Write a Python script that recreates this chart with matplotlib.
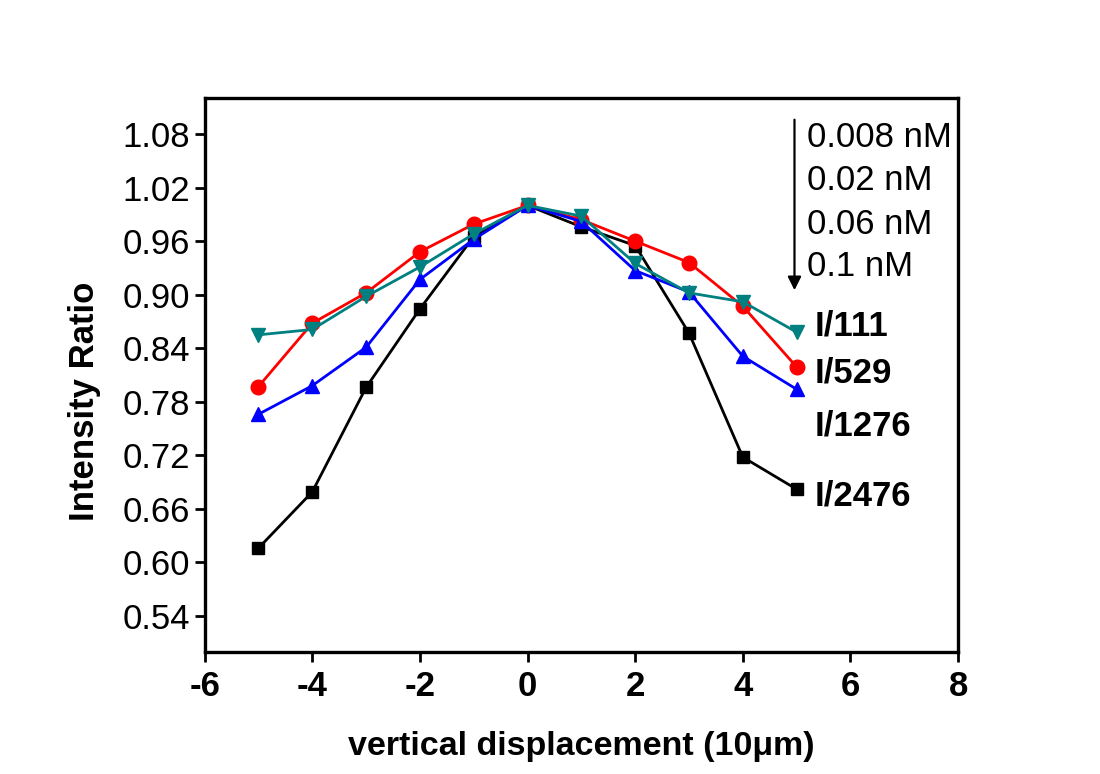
import numpy as np
import matplotlib
matplotlib.use("Agg")
import matplotlib.pyplot as plt

plt.rcParams['font.family'] = ['Liberation Sans', 'DejaVu Sans']
plt.rcParams['axes.unicode_minus'] = False

# displacement positions (units of 10 um)
x = [-5, -4, -3, -2, -1, 0, 1, 2, 3, 4, 5]

# intensity ratios
i2476 = [0.616, 0.679, 0.796, 0.884, 0.965, 1.000, 0.976, 0.955, 0.857, 0.718, 0.682]
i529 = [0.797, 0.868, 0.902, 0.948, 0.979, 1.000, 0.984, 0.960, 0.936, 0.887, 0.819]
i1276 = [0.766, 0.798, 0.841, 0.917, 0.962, 1.000, 0.982, 0.927, 0.903, 0.831, 0.794]
i111 = [0.855, 0.861, 0.898, 0.931, 0.968, 1.000, 0.988, 0.935, 0.902, 0.892, 0.858]

conc_labels = ["0.008 nM", "0.02 nM", "0.06 nM", "0.1 nM"]
conc_y = [1.0766, 1.0275, 0.979, 0.931]
series_labels = ["I/111", "I/529", "I/1276", "I/2476"]
series_label_y = [0.865, 0.812, 0.753, 0.674]

yticks = [0.54, 0.60, 0.66, 0.72, 0.78, 0.84, 0.90, 0.96, 1.02, 1.08]
xticks = [-6, -4, -2, 0, 2, 4, 6, 8]

fig = plt.figure(figsize=(11, 7.74), dpi=100)
ax = fig.add_axes([0.186, 0.158, 0.685, 0.715])

ax.plot(x, i2476, color='black', marker='s', ms=9, lw=2.0)
ax.plot(x, i529, color='#ff0000', marker='o', ms=10.5, lw=2.0)
ax.plot(x, i1276, color='#0000ff', marker='^', ms=10.5, lw=2.0)
ax.plot(x, i111, color='#008080', marker='v', ms=10.5, lw=2.0)

ax.set_xlim(-6, 8)
ax.set_ylim(0.50, 1.12)
ax.set_xticks(xticks)
ax.set_yticks(yticks)
ax.set_yticklabels(["%.2f" % v for v in yticks])
ax.tick_params(direction='out', length=7, width=2, labelsize=25)
ax.tick_params(axis='x', pad=6)
for lab in ax.get_xticklabels():
    lab.set_fontweight('bold')
for sp in ax.spines.values():
    sp.set_linewidth(2.4)

ax.set_xlabel("vertical displacement (10\u03bcm)", fontsize=24.5, fontweight='bold', labelpad=20)
ax.set_ylabel("Intensity Ratio", fontsize=25, fontweight='bold')
ax.yaxis.set_label_coords(-0.138, 0.453)

for lbl, yy in zip(conc_labels, conc_y):
    ax.text(5.19, yy, lbl, fontsize=25, va='center', ha='left')
ax.annotate("", xy=(4.96, 0.905), xytext=(4.96, 1.096),
            arrowprops=dict(arrowstyle='-|>', color='black', lw=1.6,
                            mutation_scale=20, shrinkA=0, shrinkB=0))

for lbl, yy in zip(series_labels, series_label_y):
    ax.text(5.33, yy, lbl, fontsize=25, fontweight='bold', va='center', ha='left')

fig.savefig("out.png", dpi=100)
